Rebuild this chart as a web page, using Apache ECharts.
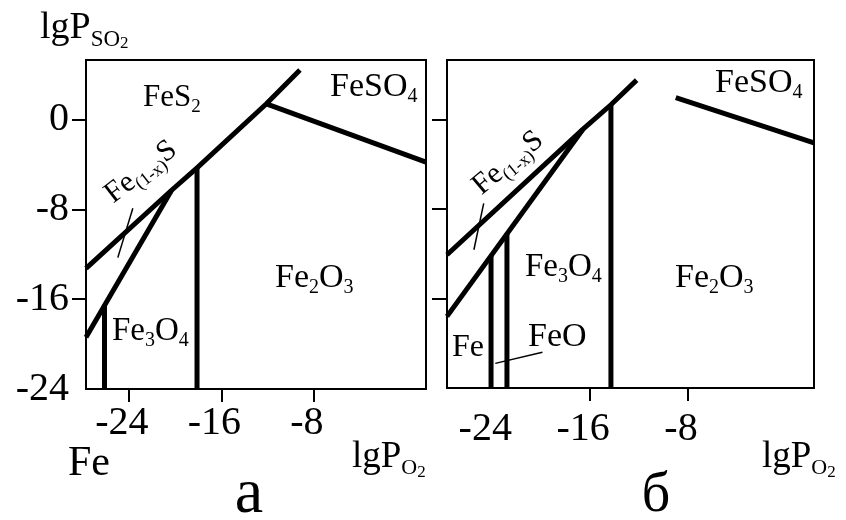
<!DOCTYPE html>
<html><head><meta charset="utf-8">
<script src="https://cdn.jsdelivr.net/npm/echarts@6/dist/echarts.min.js"></script>
<style>html,body{margin:0;padding:0;background:#fff}#c{width:846px;height:520px}</style>
</head><body><div id="c"></div>
<script>
const FONT = '"Liberation Serif", "Times New Roman", serif';

// axis ticks and labels
const xTicksA = [-24, -16, -8];
const xLabelsA = [-24, -16, -8];
const xTicksB = [-16, -8];
const xLabelsB = [-24, -16, -8];
const yTicks = [0, -8, -16];
const yLabels = [0, -8, -16, -24];

// panel "а" phase boundaries  [lgP_O2, lgP_SO2]
const aFeS2Lower   = [[-27.7, -13.25], [-20.3, -6.3], [-18.1, -4.3], [-12.1, 1.4], [-9.2, 4.4]];
const aFe1xSLower  = [[-27.7, -19.4], [-20.3, -6.3]];
const aFeFe3O4     = [[-26.1, -24], [-26.1, -16.5]];
const aFe3O4Fe2O3  = [[-18.1, -24], [-18.1, -4.3]];
const aFeSO4       = [[-12.1, 1.4], [1.7, -3.8]];
const aLeaderFe1xS = [[-23.65, -7.9], [-24.95, -12.3]];

// panel "б" phase boundaries
const bFeS2Lower   = [[-27.7, -12.1], [-16.6, -0.9], [-14.3, 1.3], [-12.2, 3.5]];
const bFe1xSLower  = [[-27.7, -17.6], [-16.6, -0.9]];
const bFeFeO       = [[-24.1, -24], [-24.1, -12.2]];
const bFeOFe3O4    = [[-22.8, -24], [-22.8, -10.2]];
const bFe3O4Fe2O3  = [[-14.3, -24], [-14.3, 1.3]];
const bFeSO4       = [[-9.0, 1.95], [2.3, -2.1]];
const bLeaderFe1xS = [[-24.7, -7.5], [-25.5, -11.65]];
const bLeaderFeO   = [[-23.75, -21.8], [-19.9, -20.8]];

function ln(data, panel, width) {
  return {type: 'line', data: data, xAxisIndex: panel, yAxisIndex: panel,
    symbol: 'none', showSymbol: false, silent: true, animation: false, z: 3,
    lineStyle: {color: '#000', width: width, cap: 'butt', join: 'miter'}};
}

function richStyles(fs) {
  const s = Math.round(fs * 0.6), t = Math.round(fs * 0.45);
  return {
    m: {fontSize: fs, fontFamily: FONT, fill: '#000'},
    s: {fontSize: s, fontFamily: FONT, fill: '#000', padding: [Math.round(fs * 0.6), 0, 0, 0]},
    t: {fontSize: t, fontFamily: FONT, fill: '#000', padding: [Math.round(fs * 0.8), 0, 0, 0]}
  };
}
// y is the main-text baseline; hasSub tells whether the line box is enlarged by subscripts
function txt(x, baseline, text, fs, opt) {
  opt = opt || {};
  let y = baseline;
  let va = 'top';
  if (opt.center) { va = 'middle'; }
  else if (opt.hasSub) { y = baseline - 0.9375 * fs - (opt.extra || 0); }
  else { y = baseline - 0.8375 * fs; }
  const el = {type: 'text', x: x, y: y, silent: true, z: 10,
    style: {text: text, fontSize: fs, fontFamily: FONT, fill: '#000',
      align: opt.align || 'left', verticalAlign: va, rich: richStyles(fs)}};
  if (opt.rotation) el.rotation = opt.rotation * Math.PI / 180;
  return el;
}

const axisTickStyle = {color: '#000', width: 2};
const labelStyle = {fontSize: 40, fontFamily: FONT, color: '#000'};

const option = {
  backgroundColor: '#fff',
  animation: false,
  grid: [
    {left: 86, top: 60, width: 340, height: 329, show: true, borderColor: '#000', borderWidth: 2},
    {left: 447, top: 60, width: 367, height: 328, show: true, borderColor: '#000', borderWidth: 2}
  ],
  xAxis: [
    {gridIndex: 0, type: 'value', min: -27.7, max: 1.7, splitLine: {show: false},
      axisLine: {show: true, onZero: false, lineStyle: axisTickStyle},
      axisTick: {show: true, customValues: xTicksA, length: 13, lineStyle: axisTickStyle},
      axisLabel: Object.assign({customValues: xLabelsA, margin: 14, padding: [0, 14, 0, 0]}, labelStyle)},
    {gridIndex: 1, type: 'value', min: -27.7, max: 2.3, splitLine: {show: false},
      axisLine: {show: true, onZero: false, lineStyle: axisTickStyle},
      axisTick: {show: true, customValues: xTicksB, length: 13, lineStyle: axisTickStyle},
      axisLabel: Object.assign({customValues: xLabelsB, margin: 21, padding: [0, 14, 0, 0]}, labelStyle)}
  ],
  yAxis: [
    {gridIndex: 0, type: 'value', min: -24, max: 5.3, splitLine: {show: false},
      axisLine: {show: true, onZero: false, lineStyle: axisTickStyle},
      axisTick: {show: true, customValues: yTicks, length: 14, lineStyle: axisTickStyle},
      axisLabel: Object.assign({customValues: yLabels, margin: 17}, labelStyle)},
    {gridIndex: 1, type: 'value', min: -24, max: 5.3, splitLine: {show: false},
      axisLine: {show: true, onZero: false, lineStyle: axisTickStyle},
      axisTick: {show: true, customValues: yTicks, length: 15, lineStyle: axisTickStyle},
      axisLabel: {show: false}}
  ],
  series: [
    ln(aFeS2Lower, 0, 5), ln(aFe1xSLower, 0, 5), ln(aFeFe3O4, 0, 5), ln(aFe3O4Fe2O3, 0, 5),
    ln(aFeSO4, 0, 5), ln(aLeaderFe1xS, 0, 1.5),
    ln(bFeS2Lower, 1, 5), ln(bFe1xSLower, 1, 5), ln(bFeFeO, 1, 5), ln(bFeOFe3O4, 1, 5),
    ln(bFe3O4Fe2O3, 1, 5), ln(bFeSO4, 1, 5), ln(bLeaderFe1xS, 1, 1.5), ln(bLeaderFeO, 1, 1.5)
  ],
  graphic: [
    // axis titles
    txt(40, 42, '{m|lgP}{s|SO}{t|2}', 38, {hasSub: true, extra: 0.04 * 38}),
    txt(352, 470, '{m|lgP}{s|O}{t|2}', 37, {hasSub: true, extra: 0.04 * 37}),
    txt(762, 470, '{m|lgP}{s|O}{t|2}', 37, {hasSub: true, extra: 0.04 * 37}),
    txt(68, 478, 'Fe', 42),
    txt(249, 517, 'а', 64, {align: 'center'}),
    txt(656, 515, 'б', 56, {align: 'center'}),
    // panel а regions
    txt(143, 108, '{m|FeS}{s|2}', 31, {hasSub: true}),
    txt(330, 99, '{m|FeSO}{s|4}', 34, {hasSub: true}),
    txt(275, 290, '{m|Fe}{s|2}{m|O}{s|3}', 34, {hasSub: true}),
    txt(112, 342, '{m|Fe}{s|3}{m|O}{s|4}', 33, {hasSub: true}),
    txt(141, 172, '{m|Fe}{s|(1-x)}{m|S}', 30, {align: 'center', center: true, rotation: 38}),
    // panel б regions
    txt(715, 95, '{m|FeSO}{s|4}', 34, {hasSub: true}),
    txt(508, 163, '{m|Fe}{s|(1-x)}{m|S}', 30, {align: 'center', center: true, rotation: 40}),
    txt(525, 278, '{m|Fe}{s|3}{m|O}{s|4}', 33, {hasSub: true}),
    txt(675, 290, '{m|Fe}{s|2}{m|O}{s|3}', 34, {hasSub: true}),
    txt(452, 358, 'Fe', 32),
    txt(528, 349, 'FeO', 34)
  ]
};

const chart = echarts.init(document.getElementById('c'));
chart.setOption(option);
</script>
</body></html>
